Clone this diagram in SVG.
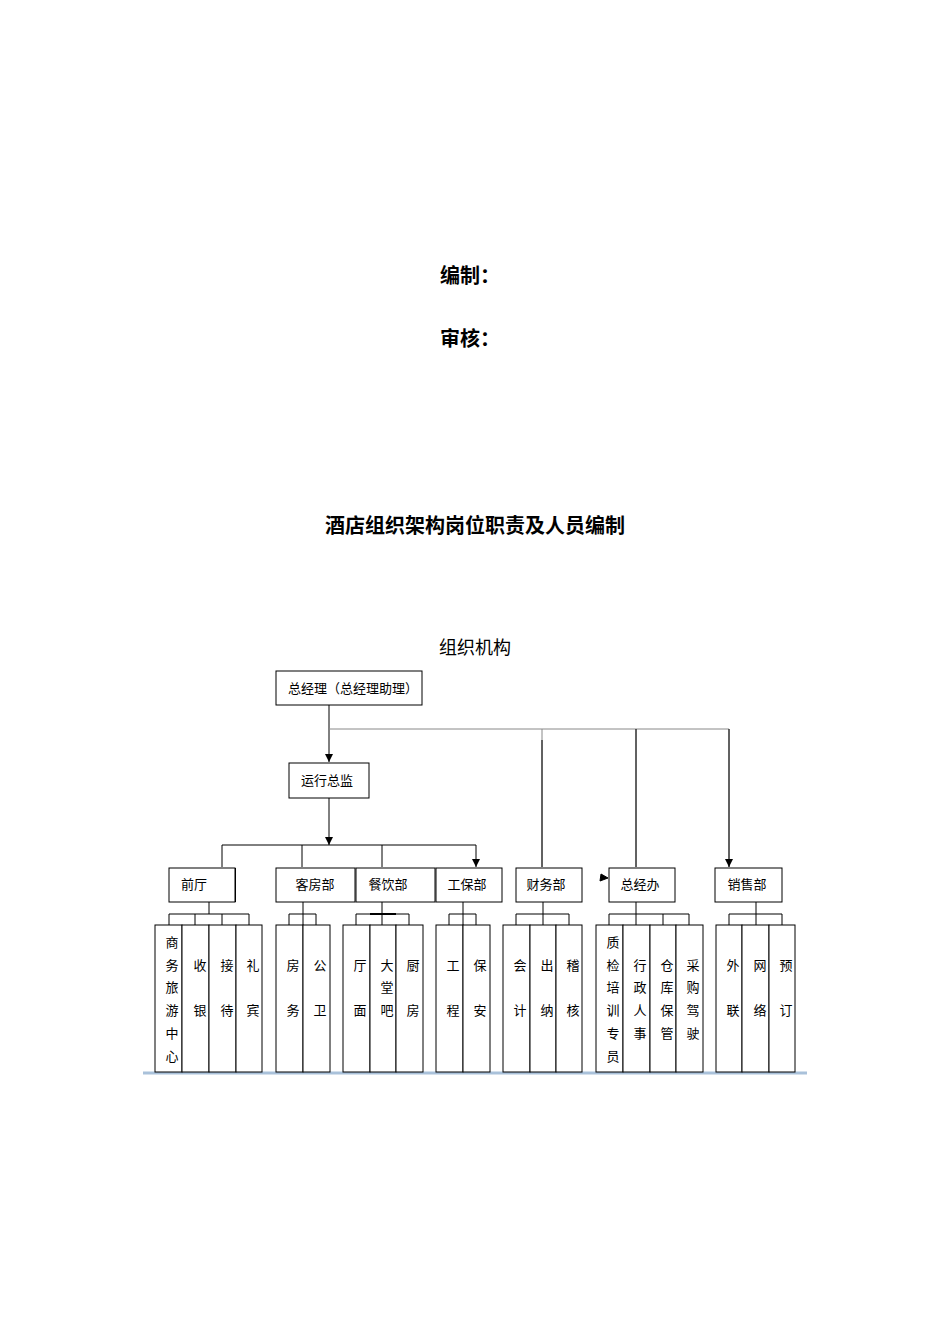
<svg xmlns="http://www.w3.org/2000/svg" width="950" height="1344" viewBox="0 0 950 1344">
<style>
.b{fill:#fff;stroke:#000;stroke-width:1}
.l{stroke:#000;stroke-width:1;fill:none}
.t{font-family:"Liberation Sans","Noto Sans CJK SC",sans-serif;font-size:13px;fill:#000}
.c{font-family:"Liberation Sans","Noto Sans CJK SC",sans-serif;font-size:13px;fill:#000;text-anchor:middle}
.h{font-family:"Liberation Serif","Noto Sans CJK SC",serif;font-weight:bold;font-size:20px;fill:#000;text-anchor:middle}
</style>
<defs><marker id="a" viewBox="0 0 10 10" refX="10" refY="5" markerWidth="8" markerHeight="8" markerUnits="userSpaceOnUse" orient="auto"><path d="M0,0L10,5L0,10z"/></marker></defs>
<rect width="950" height="1344" fill="#fff"/>
<text class="h" x="470" y="283">编制：</text>
<text class="h" x="470" y="346">审核：</text>
<text class="h" x="475" y="533" font-size="21">酒店组织架构岗位职责及人员编制</text>
<text x="475" y="654" text-anchor="middle" font-family="Liberation Serif,Noto Sans CJK SC,serif" font-size="18">组织机构</text>
<g id="connectors" class="l">
<path d="M329,705V762" marker-end="url(#a)"/>
<path d="M329,729H729M542,729V867M636,729V867M729,729V867" stroke="#888"/>
<path d="M542,740V867M636,729V867M729,729V867" marker-end="url(#a)"/>
<path d="M329,798V845" marker-end="url(#a)"/>
<path d="M222,845H476"/>
<path d="M222,845V867M302,845V867M382,845V867M476,845V867" marker-end="url(#a)"/>
<path d="M209,902V914M169,914H249M169,914V925M195,914V925M222,914V925M249,914V925"/>
<path d="M303,902V1072M289,914H316M289,914V925M316,914V925"/>
<path d="M382,902V925M356,914H409M356,914V925M409,914V925"/>
<path d="M370,914H396" stroke-width="2"/>
<path d="M463,902V1072M449,914H476M449,914V925M476,914V925"/>
<path d="M543,902V925M516,914H569M516,914V925M569,914V925"/>
<path d="M636,902V925M609,914H689M609,914V925M663,914V925M689,914V925"/>
<path d="M756,902V925M729,914H782M729,914V925M782,914V925"/>
<path d="M235,868V902" stroke-width="2"/>
<path d="M185,892l-6,6l8,0z" fill="#000"/>
<path d="M601,874l7,4l-8,3z" fill="#000"/>
<path d="M143,1073H807" stroke="#a9c1da" stroke-width="3"/>
</g>
<g id="n-gm"><rect class="b" x="276" y="671" width="146" height="34"/><text class="t" x="288" y="693">总经理（总经理助理）</text></g>
<g id="n-ops"><rect class="b" x="289" y="763" width="80" height="35"/><text class="t" x="301" y="785">运行总监</text></g>
<g id="n-fo"><rect class="b" x="169" y="868" width="66" height="34"/><text class="t" x="181" y="889">前厅</text></g>
<g id="n-hk"><rect class="b" x="276" y="868" width="79" height="34"/><text class="c" x="315" y="889">客房部</text></g>
<g id="n-fb"><rect class="b" x="356" y="868" width="79" height="34"/><text class="c" x="388" y="889">餐饮部</text></g>
<g id="n-eng"><rect class="b" x="436" y="868" width="66" height="34"/><text class="c" x="467" y="889">工保部</text></g>
<g id="n-fin"><rect class="b" x="516" y="868" width="66" height="34"/><text class="c" x="546" y="889">财务部</text></g>
<g id="n-gmo"><rect class="b" x="609" y="868" width="66" height="34"/><text class="c" x="640" y="889">总经办</text></g>
<g id="n-sales"><rect class="b" x="715" y="868" width="67" height="34"/><text class="c" x="747" y="889">销售部</text></g>
<g id="children" class="c">
<g class="b"><rect x="155" y="925" width="27" height="147"/><rect x="182" y="925" width="27" height="147"/><rect x="209" y="925" width="27" height="147"/><rect x="236" y="925" width="26" height="147"/>
<rect x="276" y="925" width="27" height="147"/><rect x="303" y="925" width="27" height="147"/>
<rect x="343" y="925" width="27" height="147"/><rect x="370" y="925" width="26" height="147"/><rect x="396" y="925" width="27" height="147"/>
<rect x="436" y="925" width="27" height="147"/><rect x="463" y="925" width="27" height="147"/>
<rect x="503" y="925" width="27" height="147"/><rect x="530" y="925" width="26" height="147"/><rect x="556" y="925" width="26" height="147"/>
<rect x="596" y="925" width="27" height="147"/><rect x="623" y="925" width="27" height="147"/><rect x="650" y="925" width="26" height="147"/><rect x="676" y="925" width="27" height="147"/>
<rect x="716" y="925" width="26" height="147"/><rect x="742" y="925" width="27" height="147"/><rect x="769" y="925" width="26" height="147"/></g>
<g class="c">
<text x="172" y="947">商</text><text x="172" y="970">务</text><text x="172" y="992">旅</text><text x="172" y="1015">游</text><text x="172" y="1038">中</text><text x="172" y="1061">心</text>
<text x="200" y="970">收</text><text x="200" y="1015">银</text>
<text x="227" y="970">接</text><text x="227" y="1015">待</text>
<text x="253" y="970">礼</text><text x="253" y="1015">宾</text>
<text x="293" y="970">房</text><text x="293" y="1015">务</text>
<text x="320" y="970">公</text><text x="320" y="1015">卫</text>
<text x="360" y="970">厅</text><text x="360" y="1015">面</text>
<text x="387" y="970">大</text><text x="387" y="992">堂</text><text x="387" y="1015">吧</text>
<text x="413" y="970">厨</text><text x="413" y="1015">房</text>
<text x="453" y="970">工</text><text x="453" y="1015">程</text>
<text x="480" y="970">保</text><text x="480" y="1015">安</text>
<text x="520" y="970">会</text><text x="520" y="1015">计</text>
<text x="547" y="970">出</text><text x="547" y="1015">纳</text>
<text x="573" y="970">稽</text><text x="573" y="1015">核</text>
<text x="613" y="947">质</text><text x="613" y="970">检</text><text x="613" y="992">培</text><text x="613" y="1015">训</text><text x="613" y="1038">专</text><text x="613" y="1061">员</text>
<text x="640" y="970">行</text><text x="640" y="992">政</text><text x="640" y="1015">人</text><text x="640" y="1038">事</text>
<text x="667" y="970">仓</text><text x="667" y="992">库</text><text x="667" y="1015">保</text><text x="667" y="1038">管</text>
<text x="693" y="970">采</text><text x="693" y="992">购</text><text x="693" y="1015">驾</text><text x="693" y="1038">驶</text>
<text x="733" y="970">外</text><text x="733" y="1015">联</text>
<text x="760" y="970">网</text><text x="760" y="1015">络</text>
<text x="786" y="970">预</text><text x="786" y="1015">订</text>
</g></g>
</svg>
